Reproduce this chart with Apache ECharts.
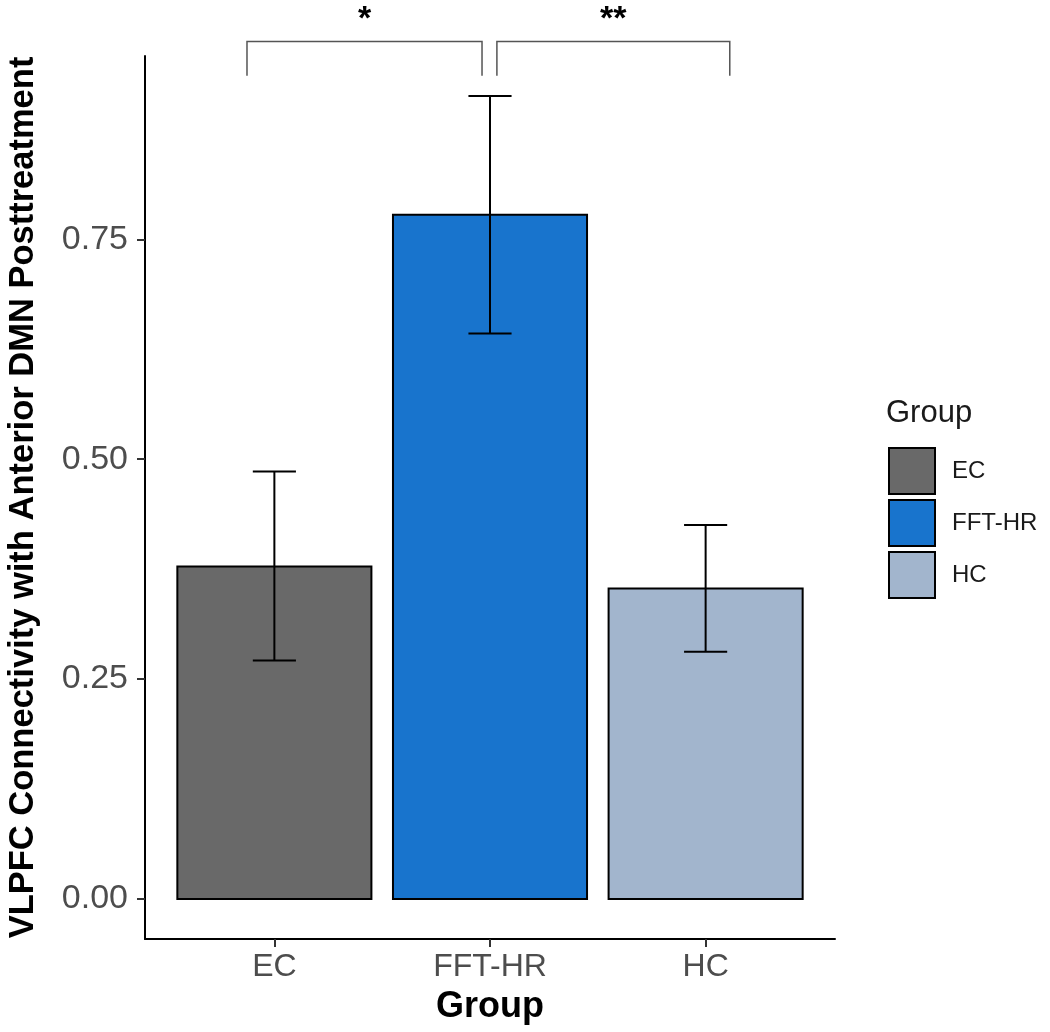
<!DOCTYPE html>
<html>
<head>
<meta charset="utf-8">
<script src="https://cdn.jsdelivr.net/npm/echarts@6/dist/echarts.min.js"></script>
<style>
  html, body { margin: 0; padding: 0; background: #fff; }
  #chart { width: 1050px; height: 1032px; }
</style>
</head>
<body>
<div id="chart"></div>
<script>
// ---- data ----
const groups = ['EC', 'FFT-HR', 'HC'];
const means = [0.378, 0.778, 0.353];
const errLow = [0.271, 0.643, 0.281];
const errHigh = [0.486, 0.913, 0.425];
const yTicks = [0, 0.25, 0.5, 0.75];
const yTickLabels = ['0.00', '0.25', '0.50', '0.75'];
// significance brackets (x in category index units, y in data units)
const bracketFrom = [-0.127, 1.032];
const bracketTo = [0.963, 2.112];
const bracketLabels = ['*', '**'];
const bracketTop = 0.975;
const bracketTip = 0.936;
const bracketLabelY = 1.0;

// ---- styles ----
const palette = { 'EC': '#696969', 'FFT-HR': '#1874CD', 'HC': '#A2B5CD' };
const FONT = '"Liberation Sans", Arial, Helvetica, sans-serif';

const chart = echarts.init(document.getElementById('chart'));

function renderBar(params, api) {
  const x = api.value(0), m = api.value(1), lo = api.value(2), hi = api.value(3);
  const tl = api.coord([x - 0.45, m]);
  const br = api.coord([x + 0.45, 0]);
  const pHi = api.coord([x, hi]);
  const pLo = api.coord([x, lo]);
  const capL = api.coord([x - 0.1, hi])[0];
  const capR = api.coord([x + 0.1, hi])[0];
  const lineStyle = { stroke: '#000', lineWidth: 2 };
  return {
    type: 'group',
    children: [
      { type: 'rect', shape: { x: tl[0], y: tl[1], width: br[0] - tl[0], height: br[1] - tl[1] },
        style: { fill: api.visual('color'), stroke: '#000', lineWidth: 2 } },
      { type: 'line', shape: { x1: pHi[0], y1: pHi[1], x2: pLo[0], y2: pLo[1] }, style: lineStyle },
      { type: 'line', shape: { x1: capL, y1: pHi[1], x2: capR, y2: pHi[1] }, style: lineStyle },
      { type: 'line', shape: { x1: capL, y1: pLo[1], x2: capR, y2: pLo[1] }, style: lineStyle }
    ]
  };
}

function renderBracket(params, api) {
  const x1 = api.value(0), x2 = api.value(1), yt = api.value(2), yb = api.value(3), yl = api.value(4);
  const a = api.coord([x1, yb]), b = api.coord([x1, yt]), c = api.coord([x2, yt]), d = api.coord([x2, yb]);
  const lab = api.coord([(x1 + x2) / 2, yl]);
  return {
    type: 'group',
    children: [
      { type: 'polyline', shape: { points: [a, b, c, d] }, style: { stroke: '#555', lineWidth: 1.5, fill: null } },
      { type: 'text', x: lab[0], y: lab[1],
        style: { text: bracketLabels[params.dataIndex], fill: '#000', font: 'bold 34px ' + FONT,
                 align: 'center', verticalAlign: 'middle' } }
    ]
  };
}

const barSeries = groups.map((g, i) => ({
  name: g,
  type: 'custom',
  renderItem: renderBar,
  itemStyle: { color: palette[g] },
  data: [[i, means[i], errLow[i], errHigh[i]]],
  encode: { x: 0, y: [1, 2, 3] },
  clip: false,
  z: 2
}));

const bracketSeries = {
  name: 'brackets',
  type: 'custom',
  renderItem: renderBracket,
  data: bracketFrom.map((f, i) => [f, bracketTo[i], bracketTop, bracketTip, bracketLabelY]),
  encode: { x: [0, 1], y: [2, 3, 4] },
  clip: false,
  silent: true,
  z: 3
};

const yMin = -0.0456, yMax = 0.9584;

chart.setOption({
  animation: false,
  backgroundColor: '#fff',
  textStyle: { fontFamily: FONT },
  title: {
    text: 'Group',
    left: 886, top: 398,
    padding: 0,
    textStyle: { fontSize: 31, fontWeight: 'normal', color: '#1a1a1a', fontFamily: FONT }
  },
  legend: {
    orient: 'vertical',
    left: 888, top: 447,
    padding: 0,
    itemWidth: 46, itemHeight: 46, itemGap: 4,
    icon: 'rect',
    data: groups,
    itemStyle: { borderColor: '#000', borderWidth: 2 },
    textStyle: { fontSize: 24, color: '#1a1a1a', fontFamily: FONT, padding: [0, 0, 0, 12] },
    selectedMode: false
  },
  grid: { left: 145, top: 56, width: 690, height: 883, containLabel: false, outerBoundsMode: 'none' },
  xAxis: {
    type: 'value',
    min: -0.6, max: 2.6,
    name: 'Group',
    nameLocation: 'middle',
    nameGap: 50,
    nameTextStyle: { fontSize: 36, fontWeight: 'bold', color: '#000', fontFamily: FONT },
    axisLine: { show: true, onZero: false, lineStyle: { color: '#000', width: 2 } },
    axisTick: { show: true, customValues: [0, 1, 2], length: 8, lineStyle: { color: '#333', width: 2 } },
    axisLabel: {
      customValues: [0, 1, 2],
      formatter: v => groups[Math.round(v)],
      fontSize: 32, color: '#4D4D4D', margin: 12, fontFamily: FONT
    },
    splitLine: { show: false }
  },
  yAxis: {
    type: 'value',
    min: yMin, max: yMax,
    name: 'VLPFC Connectivity with Anterior DMN Posttreatment',
    nameLocation: 'middle',
    nameGap: 104,
    nameTextStyle: { fontSize: 34.5, fontWeight: 'bold', color: '#000', fontFamily: FONT },
    axisLine: { show: true, onZero: false, lineStyle: { color: '#000', width: 2 } },
    axisTick: { show: true, customValues: yTicks, length: 8, lineStyle: { color: '#333', width: 2 } },
    axisLabel: {
      customValues: yTicks,
      formatter: v => yTickLabels[yTicks.findIndex(t => Math.abs(t - v) < 1e-6)] ?? v.toFixed(2),
      fontSize: 34, color: '#4D4D4D', margin: 17, fontFamily: FONT
    },
    splitLine: { show: false }
  },
  series: [...barSeries, bracketSeries]
});
</script>
</body>
</html>
